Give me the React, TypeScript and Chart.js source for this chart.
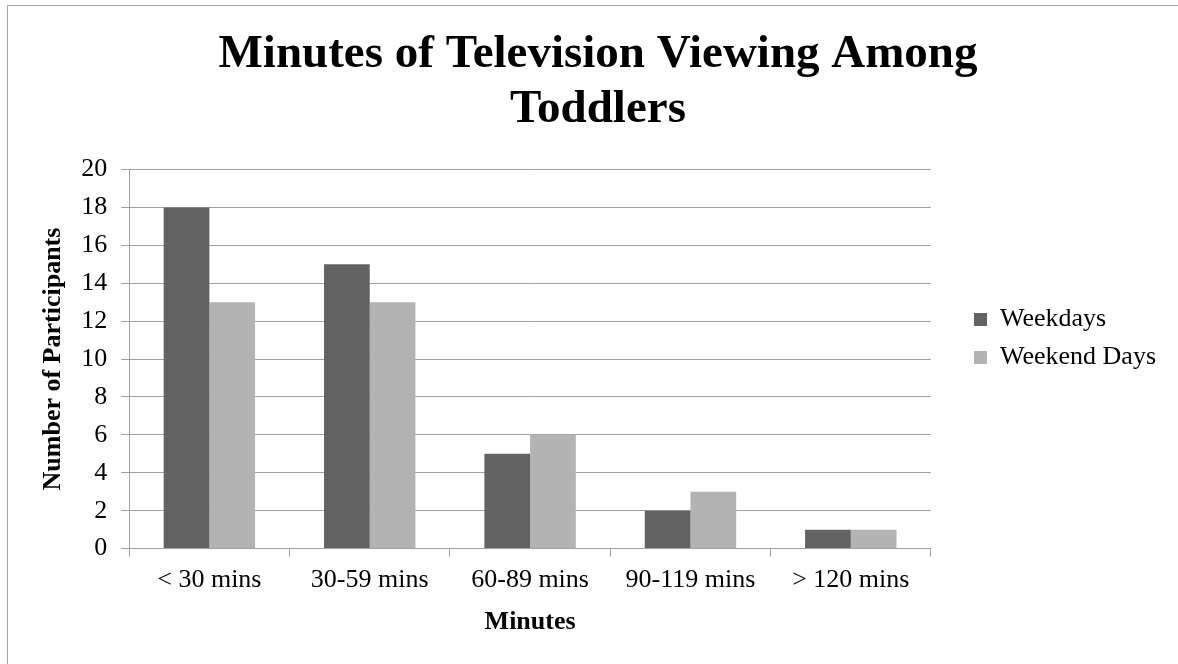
import React, { useEffect, useRef } from "react";
import { Chart, registerables, layouts } from "chart.js";

Chart.register(...registerables);

const categories = ["< 30 mins", "30-59 mins", "60-89 mins", "90-119 mins", "> 120 mins"];
const weekdays = [18, 15, 5, 2, 1];
const weekendDays = [13, 13, 6, 3, 1];
const seriesNames = ["Weekdays", "Weekend Days"];
const titleLines = ["Minutes of Television Viewing Among", "Toddlers"];
const xTitle = "Minutes";
const yTitle = "Number of Participants";

const FONT = "'Liberation Serif', 'Times New Roman', serif";
const GRID = "#a0a0a0";

export default function App() {
  const ref = useRef<HTMLCanvasElement | null>(null);
  useEffect(() => {
    if (!ref.current) return;
    const spacer: any = {
      position: "right",
      weight: -10,
      fullSize: false,
      options: { stack: undefined, stackWeight: 1 },
      width: 0,
      height: 0,
      left: 0,
      top: 0,
      right: 0,
      bottom: 0,
      isHorizontal() {
        return false;
      },
      update(maxWidth: number, maxHeight: number) {
        this.width = 31;
        this.height = maxHeight;
      },
      draw() {},
    };
    const chart = new Chart(ref.current, {
      type: "bar",
      data: {
        labels: categories,
        datasets: [
          { label: seriesNames[0], data: weekdays, backgroundColor: "#626262", borderWidth: 0 },
          { label: seriesNames[1], data: weekendDays, backgroundColor: "#b3b3b3", borderWidth: 0 },
        ],
      },
      options: {
        responsive: false,
        animation: false,
        devicePixelRatio: 1,
        datasets: { bar: { categoryPercentage: 0.57, barPercentage: 1 } },
        layout: { padding: { left: 30, right: 12, top: 13, bottom: 0 } },
        plugins: {
          tooltip: { enabled: false },
          title: {
            display: true,
            text: titleLines,
            color: "#000",
            font: { family: FONT, size: 47, weight: "bold", lineHeight: 1.17 },
            padding: { top: 14.5, bottom: 32 },
          },
          legend: {
            position: "right",
            maxWidth: 400,
            labels: {
              color: "#000",
              font: { family: FONT, size: 26 },
              boxWidth: 13,
              boxHeight: 13,
              padding: 12,
            },
          },
        },
        scales: {
          x: {
            grid: {
              offset: true,
              drawOnChartArea: false,
              drawTicks: true,
              tickLength: 8,
              color: GRID,
            },
            border: { display: true, color: GRID },
            ticks: { color: "#000", font: { family: FONT, size: 26 }, padding: 8, maxRotation: 0 },
            title: {
              display: true,
              text: xTitle,
              color: "#000",
              font: { family: FONT, size: 26, weight: "bold" },
              padding: { top: 3, bottom: 26 },
            },
          },
          y: {
            min: 0,
            max: 20,
            grid: { color: GRID, tickLength: 8, drawTicks: true },
            border: { display: true, color: GRID },
            ticks: { stepSize: 2, color: "#000", font: { family: FONT, size: 26 }, padding: 14 },
            title: {
              display: true,
              text: yTitle,
              color: "#000",
              font: { family: FONT, size: 26, weight: "bold" },
              padding: { top: 7.4, bottom: -1.4 },
            },
          },
        },
      },
    });
    layouts.addBox(chart, spacer);
    chart.update();
    return () => {
      layouts.removeBox(chart, spacer);
      chart.destroy();
    };
  }, []);
  return (
    <>
      <div
        style={{
          position: "fixed",
          left: 7,
          top: 5,
          width: 1300,
          height: 800,
          border: "1px solid #a6a6a6",
          boxSizing: "border-box",
        }}
      />
      <canvas
        ref={ref}
        width={1178}
        height={664}
        style={{ position: "fixed", left: 0, top: 0, width: 1178, height: 664 }}
      />
    </>
  );
}
